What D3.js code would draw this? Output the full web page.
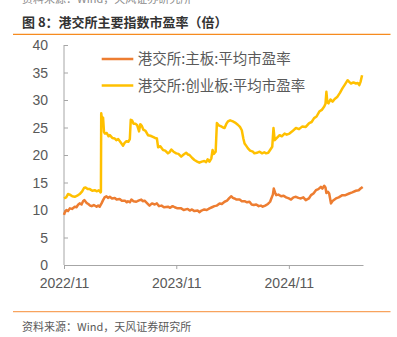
<!DOCTYPE html>
<html><head><meta charset="utf-8">
<script src="https://cdn.jsdelivr.net/npm/d3@7/dist/d3.min.js"></script>
<style>body{margin:0;background:#fff}svg{display:block}</style>
</head><body>
<svg id="c" width="397" height="337"></svg>
<script>
const seriesNames = ["港交所:主板:平均市盈率", "港交所:创业板:平均市盈率"];
const yTicks = [0, 5, 10, 15, 20, 25, 30, 35, 40];
const xTickLabels = ["2022/11", "2023/11", "2024/11"];
const xTickDates = ["2022-11-01", "2023-11-01", "2024-11-01"];

const mainDates = ["2022-11-01","2022-11-04","2022-11-09","2022-11-14","2022-11-20","2022-11-27","2022-12-06","2022-12-12","2022-12-16","2022-12-22","2022-12-28","2023-01-02","2023-01-06","2023-01-13","2023-01-19","2023-01-25","2023-01-30","2023-02-06","2023-02-15","2023-02-20","2023-02-25","2023-03-03","2023-03-08","2023-03-13","2023-03-19","2023-03-24","2023-03-30","2023-04-06","2023-04-15","2023-04-21","2023-05-01","2023-05-08","2023-05-18","2023-05-24","2023-05-28","2023-06-03","2023-06-08","2023-06-15","2023-06-24","2023-07-01","2023-07-10","2023-07-15","2023-07-21","2023-07-28","2023-08-06","2023-08-14","2023-08-23","2023-08-30","2023-09-06","2023-09-14","2023-09-22","2023-10-05","2023-10-12","2023-10-20","2023-10-27","2023-11-05","2023-11-17","2023-11-25","2023-12-08","2023-12-15","2023-12-22","2023-12-30","2024-01-10","2024-01-15","2024-01-22","2024-01-31","2024-02-08","2024-02-17","2024-02-25","2024-03-04","2024-03-12","2024-03-21","2024-03-28","2024-04-06","2024-04-14","2024-04-22","2024-04-28","2024-05-03","2024-05-08","2024-05-15","2024-05-25","2024-06-01","2024-06-10","2024-06-18","2024-06-26","2024-07-03","2024-07-10","2024-07-18","2024-07-26","2024-08-02","2024-08-08","2024-08-16","2024-08-25","2024-09-01","2024-09-05","2024-09-10","2024-09-13","2024-09-17","2024-09-21","2024-09-28","2024-10-07","2024-10-15","2024-10-23","2024-11-01","2024-11-08","2024-11-16","2024-11-24","2024-12-02","2024-12-10","2024-12-18","2024-12-26","2025-01-05","2025-01-12","2025-01-20","2025-01-28","2025-02-05","2025-02-13","2025-02-18","2025-02-24","2025-02-28","2025-03-03","2025-03-08","2025-03-12","2025-03-18","2025-03-24","2025-04-03","2025-04-12","2025-04-24","2025-05-04","2025-05-16","2025-05-26","2025-06-07","2025-06-16","2025-06-22","2025-06-29"];
const mainValues = [9.1,9.6,10.0,9.8,10.3,10.2,10.6,10.5,10.9,11.2,11.0,11.6,11.8,11.3,11.1,10.8,10.7,10.9,10.6,10.8,10.6,11.2,11.8,12.3,12.5,12.2,12.4,12.1,12.2,11.9,12.0,11.7,11.7,11.4,11.6,11.4,11.9,11.6,11.5,11.7,11.9,11.6,11.7,11.3,10.8,11.2,11.0,11.2,10.7,10.8,10.5,10.6,10.4,10.7,10.5,10.3,10.3,10.0,10.2,9.9,10.1,9.8,9.9,9.6,9.9,10.1,10.0,10.3,10.5,10.7,10.8,11.2,11.1,11.5,11.7,12.2,12.5,12.2,12.1,11.9,11.9,11.6,11.6,11.4,11.5,11.0,10.9,11.0,10.7,10.8,10.6,10.8,11.1,11.5,12.1,12.8,13.9,13.2,12.7,12.8,12.5,12.6,12.3,12.1,11.9,12.3,12.4,12.2,12.1,12.3,11.8,12.1,12.7,13.0,13.6,13.8,14.2,13.9,14.4,14.1,13.1,13.3,13.0,11.2,11.7,12.1,12.3,12.7,12.7,13.0,13.2,13.5,13.6,13.9,14.2];

const gemDates = ["2022-11-01","2022-11-08","2022-11-14","2022-11-20","2022-11-28","2022-12-06","2022-12-14","2022-12-22","2022-12-30","2023-01-05","2023-01-10","2023-01-17","2023-01-24","2023-02-01","2023-02-09","2023-02-16","2023-02-22","2023-02-28","2023-03-01","2023-03-02","2023-03-05","2023-03-08","2023-03-11","2023-03-14","2023-03-20","2023-03-26","2023-03-30","2023-04-07","2023-04-15","2023-04-20","2023-04-26","2023-05-04","2023-05-12","2023-05-17","2023-05-23","2023-05-29","2023-06-03","2023-06-06","2023-06-10","2023-06-15","2023-06-21","2023-06-27","2023-07-03","2023-07-07","2023-07-12","2023-07-17","2023-07-24","2023-08-01","2023-08-09","2023-08-17","2023-08-24","2023-08-30","2023-09-03","2023-09-10","2023-09-19","2023-09-26","2023-10-05","2023-10-10","2023-10-16","2023-10-23","2023-11-01","2023-11-08","2023-11-17","2023-11-25","2023-12-03","2023-12-09","2023-12-14","2023-12-22","2023-12-30","2024-01-08","2024-01-15","2024-01-23","2024-01-31","2024-02-06","2024-02-11","2024-02-17","2024-02-23","2024-02-27","2024-03-02","2024-03-08","2024-03-12","2024-03-18","2024-03-26","2024-04-01","2024-04-06","2024-04-12","2024-04-17","2024-04-24","2024-05-03","2024-05-10","2024-05-19","2024-05-26","2024-06-01","2024-06-06","2024-06-10","2024-06-15","2024-06-21","2024-06-28","2024-07-07","2024-07-12","2024-07-20","2024-07-29","2024-08-06","2024-08-13","2024-08-19","2024-08-26","2024-09-01","2024-09-08","2024-09-12","2024-09-16","2024-09-23","2024-10-02","2024-10-09","2024-10-18","2024-10-25","2024-11-03","2024-11-12","2024-11-24","2024-12-04","2024-12-15","2024-12-26","2025-01-06","2025-01-14","2025-01-22","2025-01-30","2025-02-08","2025-02-16","2025-02-24","2025-02-28","2025-03-03","2025-03-06","2025-03-10","2025-03-16","2025-03-23","2025-03-30","2025-04-08","2025-04-16","2025-04-24","2025-05-02","2025-05-11","2025-05-16","2025-05-22","2025-05-30","2025-06-07","2025-06-13","2025-06-18","2025-06-22","2025-06-27"];
const gemValues = [12.1,12.3,12.9,12.8,12.5,12.4,12.6,12.9,13.4,14.0,14.1,13.8,13.8,13.5,13.6,13.4,13.6,13.2,13.3,27.6,26.3,26.8,24.2,23.9,24.0,23.4,23.6,23.1,23.0,22.7,22.9,22.3,21.7,22.2,22.5,22.4,22.9,26.4,26.3,25.7,25.7,25.4,24.3,25.6,25.3,24.6,24.4,23.6,23.5,23.3,23.1,23.0,21.4,21.6,20.9,20.8,20.3,20.5,21.0,20.6,20.3,20.2,19.7,20.1,20.4,20.1,20.0,19.5,19.1,18.8,18.6,18.8,18.9,18.7,19.2,18.8,19.4,20.9,20.2,20.6,25.8,25.4,25.2,25.0,24.9,25.7,26.1,26.3,26.1,25.9,25.5,25.1,24.5,23.0,22.1,21.7,21.2,20.8,20.6,20.3,20.4,20.6,20.3,20.5,20.3,20.4,20.9,21.5,24.9,22.7,23.1,23.6,23.4,23.9,23.7,23.9,24.3,24.9,24.7,25.2,25.1,25.8,26.0,26.7,27.0,27.9,28.2,28.8,29.3,31.5,29.6,29.4,30.1,29.7,30.2,30.6,31.3,32.1,32.8,33.6,33.3,33.0,33.2,33.0,33.1,32.7,33.3,34.5];

const colors = ["#ED7D31", "#FFC000"];
const parse = d3.timeParse("%Y-%m-%d");
const svg = d3.select("#c");
const cjk = "'Noto Sans CJK SC','Noto Sans',sans-serif";
const lat = "'Liberation Sans',Arial,sans-serif";

// header/footer
svg.append("text").attr("x",22).attr("y",3).attr("font-family",cjk).attr("font-size",11).attr("fill","#8c8c8c").text("资料来源：Wind，天风证券研究所");
svg.append("text").attr("x",22).attr("y",26.5).attr("font-family",cjk).attr("font-size",13).attr("font-weight","bold").attr("fill","#333").text("图 8：港交所主要指数市盈率（倍）");
svg.append("line").attr("x1",13).attr("x2",390.5).attr("y1",34.3).attr("y2",34.3).attr("stroke","#F68B1F").attr("stroke-width",1.3);
svg.append("line").attr("x1",13).attr("x2",390.5).attr("y1",311.7).attr("y2",311.7).attr("stroke","#F8A35E").attr("stroke-width",1.3);
svg.append("text").attr("x",22).attr("y",331).attr("font-family",cjk).attr("font-size",11).attr("fill","#595959").text("资料来源：Wind，天风证券研究所");

const x = d3.scaleTime().domain([parse("2022-11-01"), parse("2025-06-30")]).range([64, 363]);
const y = d3.scaleLinear().domain([0, 40]).range([265, 45]);

// y axis
const ya = svg.append("g").attr("transform","translate(64,0)")
  .call(d3.axisRight(y).tickValues(yTicks).tickSize(4).tickFormat(""));
ya.selectAll("path,line").attr("stroke","#A6A6A6");
ya.select(".domain").attr("d","M0,45V265");
svg.append("g").selectAll("text").data(yTicks).join("text")
  .attr("x",48).attr("y",d=>y(d)).attr("dy","0.36em").attr("text-anchor","end")
  .attr("font-family",lat).attr("font-size",14).attr("fill","#595959").text(d=>d);

// x axis
const xa = svg.append("g").attr("transform","translate(0,265)")
  .call(d3.axisBottom(x).tickValues(xTickDates.map(parse)).tickSize(4).tickSizeOuter(0).tickFormat((d,i)=>xTickLabels[i]));
xa.selectAll("path,line").attr("stroke","#A6A6A6");
xa.selectAll("text").attr("font-family",lat).attr("font-size",14).attr("fill","#595959").attr("dy",0).attr("y",23);

const line = d3.line().x(d=>x(d[0])).y(d=>y(d[1]));
const sets = [
  mainDates.map((d,i)=>[parse(d), mainValues[i]]),
  gemDates.map((d,i)=>[parse(d), gemValues[i]])
];
sets.forEach((s,i)=>{
  svg.append("path").datum(s).attr("d",line).attr("fill","none")
    .attr("stroke",colors[i]).attr("stroke-width",2.5).attr("stroke-linejoin","round");
});

// legend
const ly = [59, 85.5];
seriesNames.forEach((n,i)=>{
  svg.append("line").attr("x1",101.7).attr("x2",133.3).attr("y1",ly[i]).attr("y2",ly[i]).attr("stroke",colors[i]).attr("stroke-width",2.5);
  svg.append("text").attr("x",137.7).attr("y",ly[i]).attr("dy","0.36em").attr("font-family",cjk).attr("font-size",14.5).attr("fill","#595959").text(n);
});
</script>
</body></html>
